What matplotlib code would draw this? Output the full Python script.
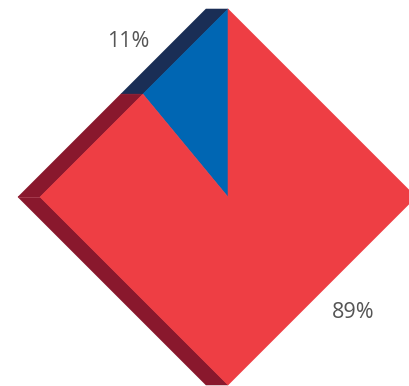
import numpy as np
import matplotlib
matplotlib.use("Agg")
import matplotlib.pyplot as plt
from matplotlib.patches import Polygon

# shares of the two slices, drawn counter-clockwise from 12 o'clock
labels = ["11%", "89%"]
shares = [11, 89]

FACE = ["#0066b3", "#ee3e44"]
SIDE = ["#1a2e56", "#89182d"]
TEXT = "#555555"

DEPTH = 0.117  # sideways extrusion, in units of the half-diagonal


def rim_point(theta):
    """Point on the diamond |x|+|y|=1 in direction theta (degrees)."""
    t = np.radians(theta)
    c, s = np.cos(t), np.sin(t)
    r = 1.0 / (abs(c) + abs(s))
    return np.array([r * c, r * s])


def rim_path(a0, a1):
    """Rim points from angle a0 to a1, passing through the diamond vertices."""
    pts = [rim_point(a0)]
    k = np.ceil(a0 / 90.0)
    while k * 90 < a1:
        if k * 90 > a0:
            pts.append(rim_point(k * 90))
        k += 1
    pts.append(rim_point(a1))
    return np.array(pts)


fig = plt.figure(figsize=(4.09, 3.86), dpi=100)
ax = fig.add_axes([0, 0, 1, 1])
ax.set_xlim(-228 / 188, 181 / 188)
ax.set_ylim(-189 / 188, 197 / 188)
ax.set_aspect("equal")
ax.axis("off")

angles = 90 + 360 * np.cumsum([0] + shares) / sum(shares)
rims = [rim_path(angles[i], angles[i + 1]) for i in range(len(shares))]
shift = np.array([-DEPTH, 0.0])

# side walls first; only the left-facing edges show
for rim, col in zip(rims, SIDE):
    for p, q in zip(rim[:-1], rim[1:]):
        if (p[0] + q[0]) / 2 >= 0:
            continue
        quad = np.array([p, q, q + shift, p + shift])
        ax.add_patch(Polygon(quad, closed=True, facecolor=col,
                             edgecolor=col, lw=0.4, zorder=1))

# faint seam where the two left walls meet
ax.plot([-1 - DEPTH, -1], [0, 0], color="#a33a4c", lw=0.7, zorder=1.5)

# front faces
for rim, col in zip(rims, FACE):
    poly = np.vstack([[0, 0], rim])
    ax.add_patch(Polygon(poly, closed=True, facecolor=col,
                         edgecolor=col, lw=0.4, zorder=2))

label_pos = [(-0.532, 0.826), (0.668, -0.617)]
for txt, (x, y) in zip(labels, label_pos):
    ax.text(x, y, txt, ha="center", va="center", fontsize=15.5,
            family="Open Sans", color=TEXT, zorder=3)

fig.savefig("out.png", dpi=100)
